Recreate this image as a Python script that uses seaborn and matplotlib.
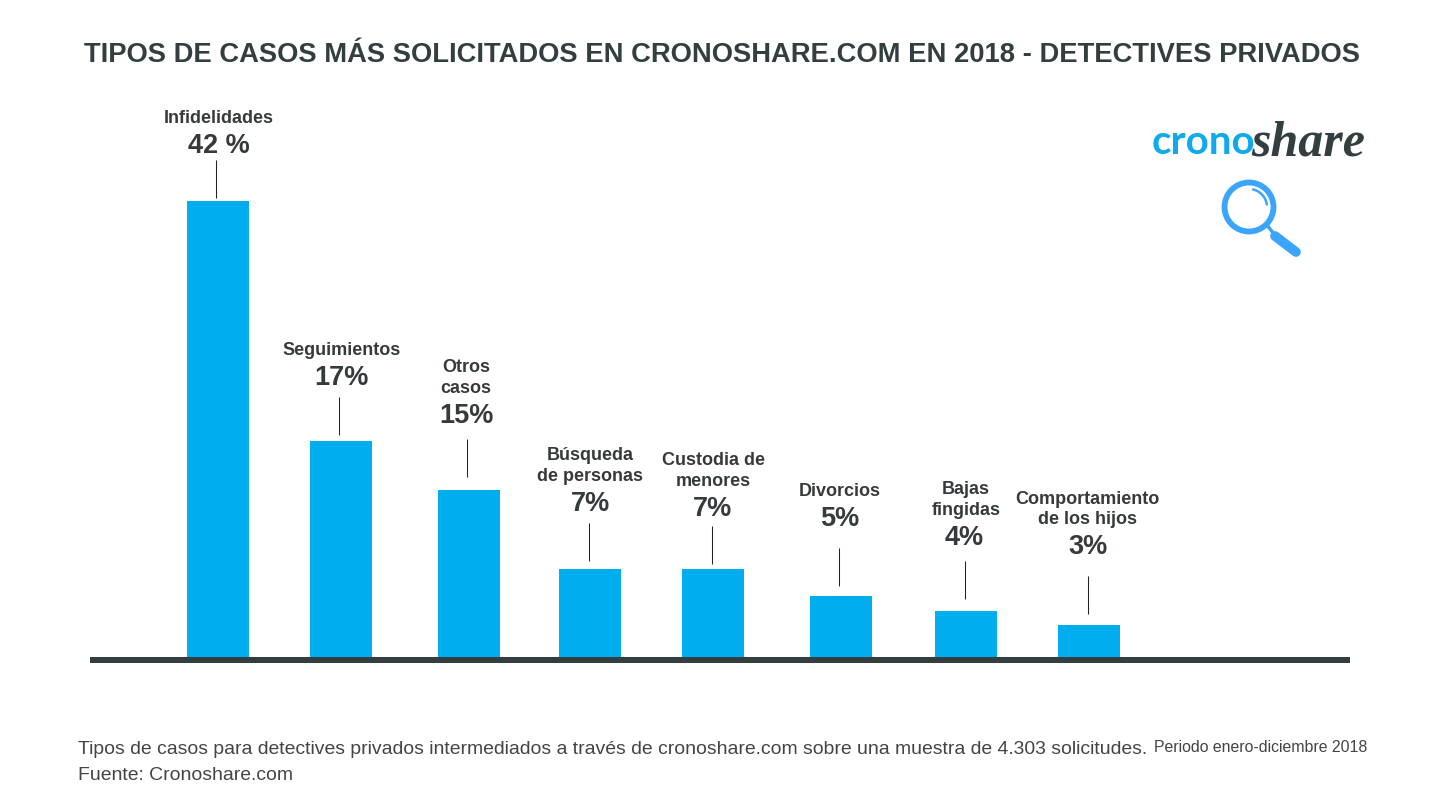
import matplotlib
matplotlib.use("Agg")
import matplotlib.pyplot as plt
from matplotlib.patches import Circle, Arc
import seaborn as sns

# Data
categories = ["Infidelidades", "Seguimientos", "Otros\ncasos", "Búsqueda\nde personas",
              "Custodia de\nmenores", "Divorcios", "Bajas\nfingidas", "Comportamiento\nde los hijos"]
share_labels = ["42 %", "17%", "15%", "7%", "7%", "5%", "4%", "3%"]
bar_heights = [42.0, 19.9, 15.4, 8.1, 8.1, 5.6, 4.2, 2.95]

# Layout (px)
W, H = 1440, 800
bar_slots = [218, 341, 469, 590, 713, 841, 966, 1089]
leader_gaps = [3, 6, 13, 8, 5, 10, 12, 11]
share_dx = [1, 0, -3, 0, 0, -1, -2, -1]
cat_dx = [1, 1, -3, 0, 0, -1, 0, -2]
leader_dx = [-2, -2, -2, -1, -1, -2, -1, -1]
label_rise = [38.5, 43.5, 47.5, 44.5, 42.5, 54.5, 48.5, 53.5]
BLUE, DARK, TEXT = "#00ADEF", "#323E3F", "#353B3C"
MAGNIFIER = "#3BA5FB"

sns.set_theme(style="white")
plt.rcParams["font.family"] = ["Liberation Sans", "DejaVu Sans"]

fig = plt.figure(figsize=(W / 100, H / 100), dpi=100, facecolor="white")
ax = fig.add_axes([90 / W, 1 - 657 / H, 1260 / W, 557 / H])
sns.barplot(x=bar_slots, y=bar_heights, native_scale=True, width=62 / 121,
            color=BLUE, saturation=1, linewidth=0, ax=ax, zorder=2)
ax.set_xlim(90, 1350)
ax.set_ylim(0, 557 / (456 / 42))
ax.set_xlabel(""); ax.set_ylabel("")
ax.set_xticks([]); ax.set_yticks([])
for side in ("top", "left", "right"):
    ax.spines[side].set_visible(False)
ax.spines["bottom"].set_position(("outward", 3 * 0.72))
ax.spines["bottom"].set_linewidth(4.32)
ax.spines["bottom"].set_color(DARK)
ax.spines["bottom"].set_capstyle("butt")

for x, h, cat, share, gap, ldx, sdx, cdx, rise in zip(bar_slots, bar_heights, categories, share_labels,
                                                      leader_gaps, leader_dx, share_dx, cat_dx, label_rise):
    base = ax.transData.transform((x, h))
    ax.plot([base[0] + ldx, base[0] + ldx], [base[1] + gap, base[1] + gap + 38],
            transform=None, color="#222222", lw=0.75, solid_capstyle="butt", clip_on=False)
    ax.annotate(share, xy=(x, h), xycoords="data",
                xytext=(sdx, gap + rise), textcoords="offset pixels",
                ha="center", va="bottom", fontsize=19.5, fontweight="bold", color=TEXT,
                annotation_clip=False)
    ax.annotate(cat, xy=(x, h), xycoords="data",
                xytext=(cdx, gap + rise + 32), textcoords="offset pixels",
                ha="center", va="bottom", fontsize=13, fontweight="bold", color=TEXT,
                linespacing=1.3, annotation_clip=False)

# Overlay in pixel coordinates for title, footer and logo
ov = fig.add_axes([0, 0, 1, 1], facecolor="none")
ov.set_xlim(0, W); ov.set_ylim(H, 0); ov.axis("off")
ov.text(722, 55, "TIPOS DE CASOS MÁS SOLICITADOS EN CRONOSHARE.COM EN 2018 - DETECTIVES PRIVADOS",
        ha="center", va="center", fontsize=19.7, fontweight="bold", color=DARK)
ov.text(78, 749, "Tipos de casos para detectives privados intermediados a través de cronoshare.com "
        "sobre una muestra de 4.303 solicitudes.", ha="left", va="center", fontsize=13.96, color="#444444")
ov.text(1367, 748, "Periodo enero-diciembre 2018", ha="right", va="center", fontsize=11.4, color="#444444")
ov.text(78, 775, "Fuente: Cronoshare.com", ha="left", va="center", fontsize=13.96, color="#444444")

# Logo
ov.text(1152, 154, "crono", ha="left", va="baseline", fontsize=29, fontweight="bold",
        family="Lato", color="#0FA9EE")
ov.text(1251, 155, "share", ha="left", va="baseline", fontsize=36, fontweight="bold", style="italic",
        family="Liberation Serif", color=DARK)

# Magnifier
ov.add_patch(Circle((1249, 207), 24.5, fill=False, ec=MAGNIFIER, lw=4.2))
ov.add_patch(Arc((1249, 207), 36, 36, theta1=-80, theta2=-5, ec=MAGNIFIER, lw=1.8))
ov.plot([1267, 1274], [225, 234], color=MAGNIFIER, lw=2.5, solid_capstyle="butt")
ov.plot([1275, 1296], [236, 252], color=MAGNIFIER, lw=7, solid_capstyle="round")

fig.savefig("out.png", dpi=100, facecolor="white")
